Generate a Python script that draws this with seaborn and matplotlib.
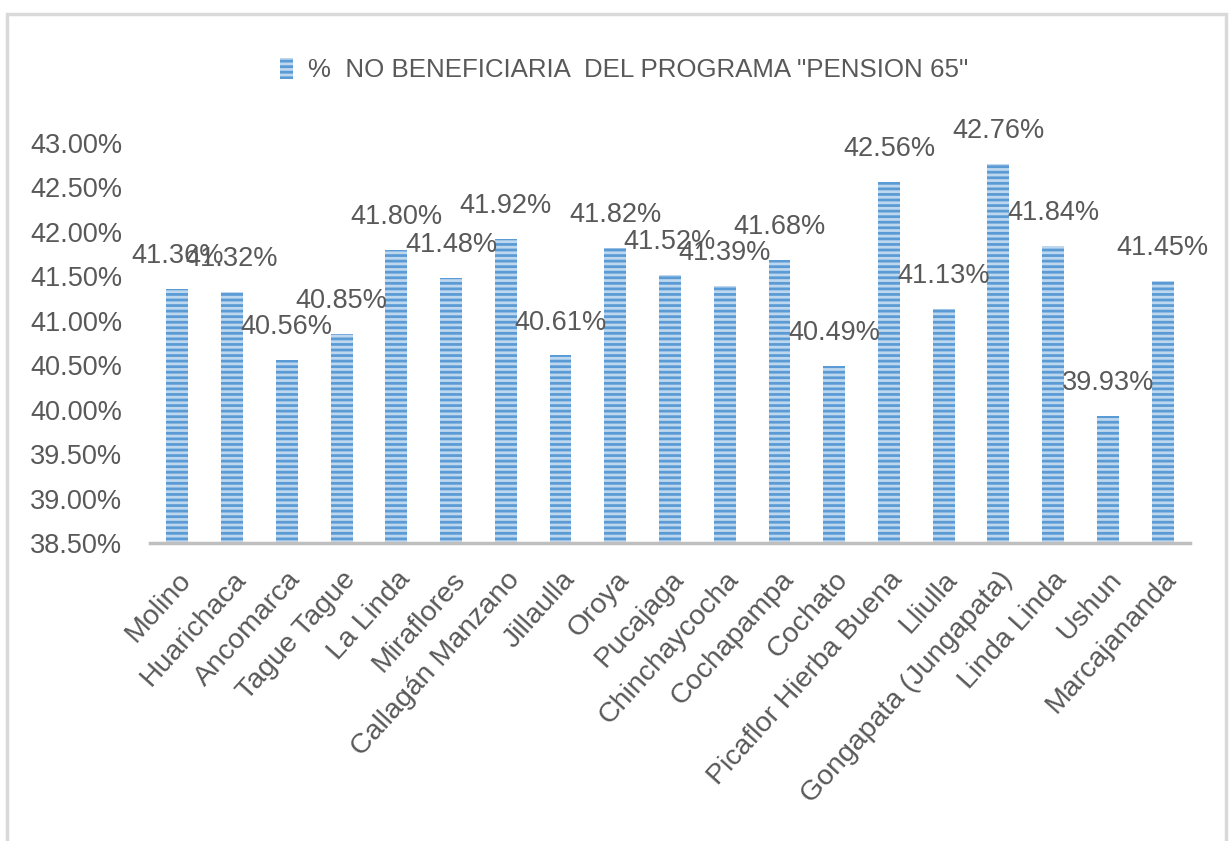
import matplotlib
matplotlib.use('Agg')
import matplotlib.pyplot as plt
import seaborn as sns
from matplotlib import ticker
from matplotlib.patches import Rectangle

# ── Data ──────────────────────────────────────────────────────────────────────

comunidades = ['Molino', 'Huarichaca', 'Ancomarca', 'Tague Tague', 'La Linda',
               'Miraflores', 'Callagán Manzano', 'Jillaulla', 'Oroya', 'Pucajaga',
               'Chinchaycocha', 'Cochapampa', 'Cochato', 'Picaflor Hierba Buena',
               'Lliulla', 'Gongapata (Jungapata)', 'Linda Linda', 'Ushun',
               'Marcajananda']
porcentajes = [41.36, 41.32, 40.56, 40.85, 41.80, 41.48, 41.92, 40.61, 41.82, 41.52,
               41.39, 41.68, 40.49, 42.56, 41.13, 42.76, 41.84, 39.93, 41.45]
serie = '%  NO BENEFICIARIA  DEL PROGRAMA "PENSION 65"'
y_ticks = [38.5, 39.0, 39.5, 40.0, 40.5, 41.0, 41.5, 42.0, 42.5, 43.0]

# ── Style ─────────────────────────────────────────────────────────────────────

sns.set_style('white')
plt.rcParams['font.family'] = ['Liberation Sans', 'DejaVu Sans']
plt.rcParams['hatch.linewidth'] = 2.0
gris = '#595959'
fs = 19.5

fig = plt.figure(figsize=(12.3, 8.41), dpi=100)
ax = fig.add_axes([150 / 1230, 1 - 543 / 841, 1040 / 1230, 400 / 841])

sns.barplot(x=comunidades, y=porcentajes, color='#5B9BD5', width=0.4,
            saturation=1, label=serie, ax=ax)

for bar in ax.patches:
    bar.set_hatch('---')
    bar.set_edgecolor('#BDD7EE')
    bar.set_linewidth(0)

# etiquetas de datos
for i, v in enumerate(porcentajes):
    ax.text(i, v + 0.37, f'{v:.2f}%', ha='center', va='center',
            fontsize=fs, color=gris, clip_on=False)

ax.set_ylim(38.5, 43.0)
ax.set_xlim(-0.5, len(comunidades) - 0.5)
ax.set_yticks(y_ticks)
ax.yaxis.set_major_formatter(ticker.FuncFormatter(lambda v, p: f'{v:.2f}%'))
ax.tick_params(axis='y', labelsize=fs, labelcolor=gris, length=0, pad=20)
ax.tick_params(axis='x', labelsize=20.5, labelcolor=gris, length=0, pad=17)
plt.setp(ax.get_xticklabels(), rotation=48, ha='right', rotation_mode='anchor')

for s in ['left', 'right', 'top']:
    ax.spines[s].set_visible(False)
ax.spines['bottom'].set_color('#BFBFBF')
ax.spines['bottom'].set_linewidth(2.5)
ax.set_xlabel('')
ax.set_ylabel('')

leg = ax.legend(loc='center', bbox_to_anchor=(624 / 1230, 1 - 70 / 841),
                bbox_transform=fig.transFigure, frameon=False, fontsize=18.6,
                handlelength=0.5, handleheight=0.9, handletextpad=0.6)
for t in leg.get_texts():
    t.set_color(gris)

fig.add_artist(Rectangle((7 / 1230, -0.1), 1219 / 1230, 1.1 - 14 / 841,
                         transform=fig.transFigure, fill=False,
                         edgecolor='#D9D9D9', linewidth=2.5))

fig.savefig('out.png', dpi=100, facecolor='white')
